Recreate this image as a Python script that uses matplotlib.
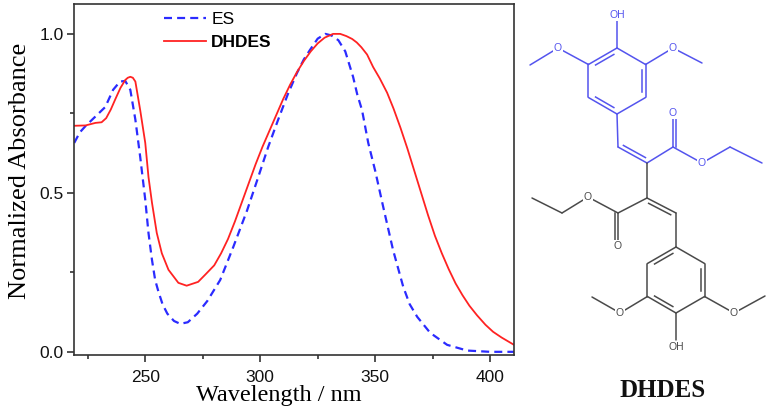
import matplotlib.pyplot as plt
import numpy as np

# UV-vis spectra
es_wl = [219.1, 221.5, 224, 228.3, 232.6, 236, 239, 241.3, 243.5, 245.7, 247.8, 250,
         251.4, 252.9, 254.3, 255.7, 257.5, 259.6, 262.5, 265.2, 268.5, 272.6, 277, 282.6,
         288.3, 294.3, 298.7, 303.5, 307.8, 312, 316, 319, 321.7, 325, 328.3, 331, 334,
         337, 340.4, 342.2, 344.3, 347, 350, 353.5, 357.8, 362.2, 365, 368.3, 373.9,
         381.3, 390, 400, 410.4]
es_abs = [0.657, 0.69, 0.71, 0.74, 0.77, 0.824, 0.85, 0.852, 0.824, 0.73, 0.613, 0.478,
          0.374, 0.29, 0.226, 0.19, 0.15, 0.12, 0.097, 0.088, 0.093, 0.12, 0.16, 0.226,
          0.33, 0.445, 0.54, 0.645, 0.73, 0.81, 0.877, 0.92, 0.95, 0.985, 1.0, 0.995, 0.98,
          0.945, 0.865, 0.81, 0.76, 0.657, 0.57, 0.456, 0.32, 0.205, 0.15, 0.11, 0.06,
          0.022, 0.004, 0.0, 0.0]

dh_wl = [219.1, 224, 228.3, 231, 233, 235, 237, 239.2, 241.3, 242.4, 243.5, 244.6,
         245.7, 247.8, 250, 251.4, 252.9, 255, 257.2, 260.1, 264.4, 268, 273, 276, 280,
         283, 286, 289, 292, 295, 298, 301, 304, 307, 310, 313, 316, 319, 322, 325, 328,
         331.7, 334.8, 337.5, 340, 342, 344, 346.5, 349.1, 352, 355.2, 358, 361, 364, 367,
         370, 373, 376, 379, 382, 385, 388, 391, 394.3, 398, 401.3, 405, 410.4]
dh_abs = [0.711, 0.712, 0.72, 0.722, 0.735, 0.762, 0.795, 0.83, 0.855, 0.862, 0.865,
          0.862, 0.85, 0.76, 0.657, 0.55, 0.47, 0.374, 0.31, 0.258, 0.217, 0.208, 0.22,
          0.242, 0.272, 0.31, 0.355, 0.41, 0.47, 0.53, 0.59, 0.645, 0.695, 0.745, 0.795,
          0.84, 0.88, 0.915, 0.945, 0.97, 0.988, 1.0, 1.0, 0.993, 0.984, 0.973, 0.958,
          0.935, 0.896, 0.86, 0.815, 0.765, 0.705, 0.64, 0.57, 0.50, 0.43, 0.365, 0.31,
          0.26, 0.215, 0.178, 0.145, 0.115, 0.085, 0.063, 0.045, 0.022]

labels = ['ES', 'DHDES']
colors = ['#2b2bff', '#ff2222']

fig = plt.figure(figsize=(7.68, 4.15), dpi=100)
ax = fig.add_axes([74 / 768, 60 / 415, 440 / 768, 351 / 415])

ax.plot(es_wl, es_abs, color=colors[0], lw=1.6, dashes=(3.6, 2.3), label=labels[0])
ax.plot(dh_wl, dh_abs, color=colors[1], lw=1.3, label=labels[1])

ax.set_xlim(219, 410.4)
ax.set_ylim(-0.01, 1.094)
ax.set_xticks([250, 300, 350, 400])
ax.set_xticks([225, 275, 325, 375], minor=True)
ax.set_yticks([0.0, 0.5, 1.0])
ax.set_yticks([0.25, 0.75], minor=True)
ax.set_yticklabels(['0.0', '0.5', '1.0'])
for s in ax.spines.values():
    s.set_color('#333333')
    s.set_linewidth(1.2)
ax.tick_params(which='both', direction='out', color='#333333', width=1.2,
               labelsize=12.5, labelcolor='#111111')
ax.tick_params(axis='x', which='major', length=5, pad=6)
ax.tick_params(axis='y', which='major', length=5, pad=2.5)
ax.tick_params(which='minor', length=3)
for t in ax.get_xticklabels() + ax.get_yticklabels():
    t.set_fontfamily('Liberation Sans')

ax.set_xlabel('Wavelength / nm', family='Liberation Serif', fontsize=17.5)
ax.set_ylabel('Normalized Absorbance', family='Liberation Serif', fontsize=19)
ax.xaxis.set_label_coords((279 - 74) / 440, -0.085)
ax.yaxis.set_label_coords(-0.098, 0.524)

leg = ax.legend(loc='upper left', bbox_to_anchor=(0.178, 1.012), frameon=False,
                prop={'family': 'Liberation Sans', 'size': 12.5},
                handlelength=2.4, handletextpad=0.3, labelspacing=0.45, borderpad=0.2)
leg.get_texts()[1].set_fontweight('bold')

# molecule sketch (pixel coordinates of the picture)
mol = fig.add_axes([0, 0, 1, 1])
mol.set_xlim(0, 768)
mol.set_ylim(415, 0)
mol.axis('off')
mol.patch.set_visible(False)

blue = '#5454ee'
gray = '#4a4a4a'


def bond(p, q, c):
    mol.plot([p[0], q[0]], [p[1], q[1]], color=c, lw=1.1, solid_capstyle='round')


def inner(p, q, ref, c, off=4.0, cut=0.18):
    p = np.array(p, float)
    q = np.array(q, float)
    d = q - p
    n = np.array([-d[1], d[0]]) / np.hypot(*d)
    if np.dot(np.array(ref) - p, n) < 0:
        n = -n
    a = p + d * cut + n * off
    b = q - d * cut + n * off
    mol.plot([a[0], b[0]], [a[1], b[1]], color=c, lw=1.1)


def label(xy, s, c):
    mol.text(xy[0], xy[1], s, color=c, fontsize=7.5, family='Liberation Sans',
             ha='center', va='center', zorder=5,
             bbox=dict(boxstyle='square,pad=0.05', fc='white', ec='none'))


def ring(center, top_down, c):
    cx, cy = center
    r = 33
    ang = np.deg2rad(np.array([90, 150, 210, 270, 330, 30]))
    pts = [(cx + r * np.cos(a), cy - r * np.sin(a)) for a in ang]
    if top_down:
        pts = [(x, 2 * cy - y) for x, y in pts]
    for i in range(6):
        bond(pts[i], pts[(i + 1) % 6], c)
    return pts


# upper (blue) half
top = ring((617, 81), False, blue)  # 0 top, 1 upper-left, 2 lower-left, 3 bottom, 4 lower-right, 5 upper-right
ctr = (617, 81)
inner(top[0], top[1], ctr, blue)
inner(top[2], top[3], ctr, blue)
inner(top[4], top[5], ctr, blue)
bond(top[0], (617, 20), blue)
label((617, 15), 'OH', blue)
bond(top[1], (558, 48), blue)
bond((558, 48), (530, 65), blue)
label((558, 48), 'O', blue)
bond(top[5], (673, 48), blue)
bond((673, 48), (702, 63), blue)
label((673, 48), 'O', blue)
bond(top[3], (618, 147), blue)
bond((618, 147), (647, 163), blue)
inner((618, 147), (647, 163), (640, 140), blue, cut=0.12)
bond((647, 163), (673, 147), blue)
bond((673, 147), (673, 116), blue)
mol.plot([676, 676], [147, 118], color=blue, lw=1.1)
label((673, 113), 'O', blue)
bond((673, 147), (702, 163), blue)
label((702, 163), 'O', blue)
bond((702, 163), (730, 147), blue)
bond((730, 147), (762, 163), blue)

# link
bond((647, 163), (647, 198), gray)

# lower (gray) half
bond((647, 198), (676, 213), gray)
inner((647, 198), (676, 213), (655, 220), gray, cut=0.12)
bond((647, 198), (618, 213), gray)
bond((618, 213), (618, 244), gray)
mol.plot([615, 615], [213, 242], color=gray, lw=1.1)
label((618, 246), 'O', gray)
bond((618, 213), (588, 197), gray)
label((588, 197), 'O', gray)
bond((588, 197), (562, 213), gray)
bond((562, 213), (532, 198), gray)
bond((676, 213), (676, 247), gray)
bot = ring((676, 280), True, gray)  # 0 bottom, 1 lower-left, 2 upper-left, 3 top, 4 upper-right, 5 lower-right
bctr = (676, 280)
inner(bot[3], bot[2], bctr, gray)
inner(bot[1], bot[0], bctr, gray)
inner(bot[4], bot[5], bctr, gray)
bond(bot[0], (676, 340), gray)
label((676, 347), 'OH', gray)
bond(bot[1], (620, 313), gray)
bond((620, 313), (592, 297), gray)
label((620, 313), 'O', gray)
bond(bot[5], (734, 313), gray)
bond((734, 313), (765, 296), gray)
label((734, 313), 'O', gray)

mol.text(663, 390, 'DHDES', family='Liberation Serif', fontweight='bold', fontsize=18,
         ha='center', va='center', color='#111111')

fig.savefig('out.png', dpi=100)
